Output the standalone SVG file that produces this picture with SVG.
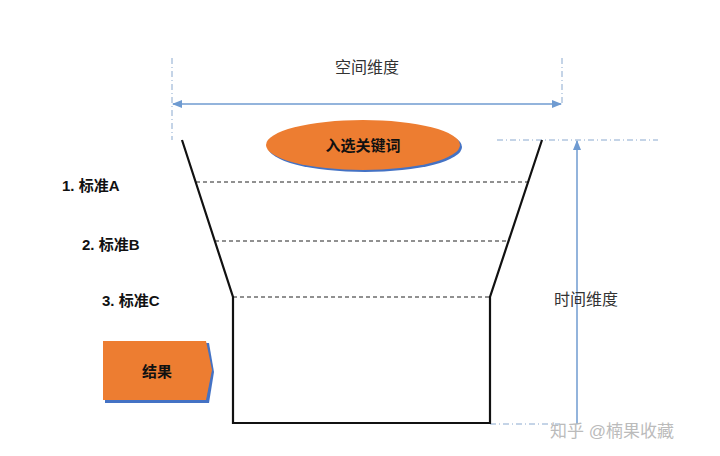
<svg xmlns="http://www.w3.org/2000/svg" width="720" height="456" viewBox="0 0 720 456">
<style>
.t{font-family:"Liberation Sans","Noto Sans CJK SC",sans-serif;}
.b{font-weight:bold;font-size:15px;fill:#111;}
.ax{stroke:#6f9bd1;stroke-width:1.5;fill:none;}
.dd{stroke:#8aa9cf;stroke-width:1;stroke-dasharray:6 3 1 3;fill:none;}
.ds{stroke:#222;stroke-width:1;stroke-dasharray:4 3;}
</style>
<defs>
<marker id="ah" markerWidth="10" markerHeight="8" refX="9" refY="4" orient="auto-start-reverse" markerUnits="userSpaceOnUse"><path d="M0,0 L10,4 L0,8 z" fill="#6f9bd1"/></marker>
</defs>
<rect width="720" height="456" fill="#fff"/>
<g id="connectors">
<line class="dd" x1="172" y1="58" x2="172" y2="140"/>
<line class="dd" x1="562" y1="58" x2="562" y2="104"/>
<line class="ax" x1="173" y1="104" x2="561" y2="104" marker-start="url(#ah)" marker-end="url(#ah)"/>
<line class="dd" x1="497" y1="140" x2="658" y2="140"/>
<line class="dd" x1="490" y1="424" x2="560" y2="424"/>
<line class="ax" x1="577" y1="424" x2="577" y2="141" marker-end="url(#ah)"/>
<line class="ds" x1="196" y1="182" x2="528" y2="182"/>
<line class="ds" x1="215" y1="241" x2="509" y2="241"/>
<line class="ds" x1="233" y1="297" x2="490" y2="297"/>
</g>
<g id="funnel">
<polyline points="182,140 233,297 233,423 490,423 490,297 542,140" fill="none" stroke="#111" stroke-width="2.2"/>
</g>
<g id="space"><text class="t" x="367" y="73" font-size="16" fill="#333" text-anchor="middle">空间维度</text></g>
<g id="time"><text class="t" x="586" y="305" font-size="16" fill="#333" text-anchor="middle">时间维度</text></g>
<g id="keyword">
<ellipse cx="365" cy="147" rx="97" ry="25" fill="#4472c4"/>
<ellipse cx="363" cy="145" rx="97" ry="25" fill="#ed7d31"/>
<text class="t b" x="363" y="151" font-size="17" text-anchor="middle">入选关键词</text>
</g>
<g id="a"><text class="t b" x="62" y="191">1. 标准A</text></g>
<g id="bb"><text class="t b" x="82" y="250">2. 标准B</text></g>
<g id="c"><text class="t b" x="102" y="306">3. 标准C</text></g>
<g id="result">
<path d="M105,343 L209,343 L214,372 L209,403 L105,403 z" fill="#4472c4"/>
<path d="M103,341 L206,341 L212,370 L206,400 L103,400 z" fill="#ed7d31"/>
<text class="t b" x="157" y="377" font-size="17" text-anchor="middle">结果</text>
</g>
<g id="watermark"><text class="t" x="550" y="437" font-size="17" fill="#bbb">知乎 @楠果收藏</text></g>
</svg>
